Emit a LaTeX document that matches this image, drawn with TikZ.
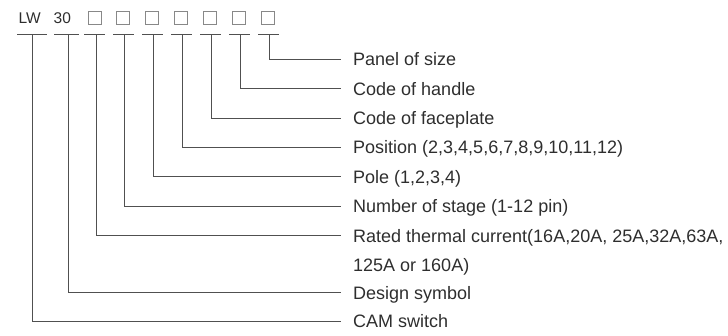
\documentclass[tikz,border=0pt]{standalone}
\usepackage{fontspec}
\setmainfont{Liberation Sans}
\definecolor{txt}{HTML}{2E2E2E}
\definecolor{linec}{HTML}{505050}
\definecolor{boxc}{HTML}{888888}
\begin{document}
\begin{tikzpicture}[x=1pt,y=-1pt,
  lab/.style={anchor=west,inner sep=0pt,text height=13pt,text depth=0pt,font=\fontsize{18}{20}\selectfont,text=txt},
  codetxt/.style={inner sep=0pt,anchor=base west,font=\fontsize{15.5}{17}\selectfont,text=txt},
  sq/.style={draw=boxc,line width=0.8pt,minimum size=12.5pt,inner sep=0pt},
  ul/.style={draw=linec,line width=0.9pt},
  conn/.style={draw=linec,line width=0.9pt}]
\useasboundingbox (0,0) rectangle (728,335);
% code line
\node[codetxt] (lw) at (18.5,23.5) {LW};
\node[codetxt] (n30) at (53.5,23.5) {30};
\node[sq] (b1) at (94.7,18) {};
\node[sq] (b2) at (123,18) {};
\node[sq] (b3) at (152,18) {};
\node[sq] (b4) at (181,18) {};
\node[sq] (b5) at (210,18) {};
\node[sq] (b6) at (238.7,18) {};
\node[sq] (b7) at (267.7,18) {};
% underlines
\draw[ul] (17,34) -- (47,34);
\draw[ul] (54,34) -- (79,34);
\draw[ul] (84,34) -- (105,34);
\draw[ul] (113,34) -- (134,34);
\draw[ul] (142,34) -- (163,34);
\draw[ul] (171,34) -- (192,34);
\draw[ul] (200,34) -- (221,34);
\draw[ul] (229,34) -- (250,34);
\draw[ul] (258,34) -- (279,34);
\coordinate (u0) at (32,34);
\coordinate (u1) at (68,34);
\coordinate (u2) at (96,34);
\coordinate (u3) at (124,34);
\coordinate (u4) at (153,34);
\coordinate (u5) at (182,34);
\coordinate (u6) at (211,34);
\coordinate (u7) at (240,34);
\coordinate (u8) at (269,34);
% labels
\node[lab] (l1) at (353,59) {Panel of size};
\node[lab] (l2) at (353,88.5) {Code of handle};
\node[lab] (l3) at (353,118) {Code of faceplate};
\node[lab] (l4) at (353,147) {Position (2,3,4,5,6,7,8,9,10,11,12)};
\node[lab] (l5) at (353,176.5) {Pole (1,2,3,4)};
\node[lab] (l6) at (353,206) {Number of stage (1-12 pin)};
\node[lab] (l7) at (353,235.5) {Rated thermal current(16A,20A, 25A,32A,63A,};
\node[lab] (l7b) at (353,265) {125A or 160A)};
\node[lab] (l8) at (353,292.5) {Design symbol};
\node[lab] (l9) at (353,321) {CAM switch};
% connectors
\draw[conn] (u8) |- ([xshift=-12pt]l1.west);
\draw[conn] (u7) |- ([xshift=-12pt]l2.west);
\draw[conn] (u6) |- ([xshift=-12pt]l3.west);
\draw[conn] (u5) |- ([xshift=-12pt]l4.west);
\draw[conn] (u4) |- ([xshift=-12pt]l5.west);
\draw[conn] (u3) |- ([xshift=-12pt]l6.west);
\draw[conn] (u2) |- ([xshift=-12pt]l7.west);
\draw[conn] (u1) |- ([xshift=-12pt]l8.west);
\draw[conn] (u0) |- ([xshift=-12pt]l9.west);
\end{tikzpicture}
\end{document}
